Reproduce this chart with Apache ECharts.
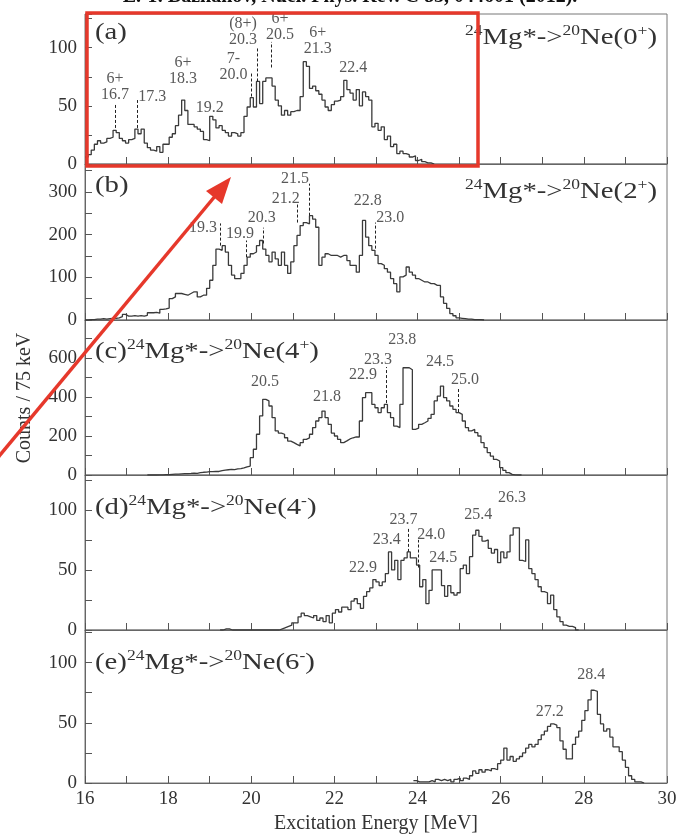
<!DOCTYPE html>
<html><head><meta charset="utf-8">
<script src="https://cdn.jsdelivr.net/npm/echarts@6/dist/echarts.min.js"></script>
<style>html,body{margin:0;padding:0;background:#fff}#c{width:679px;height:834px}</style>
</head><body><div id="c"></div>
<script>
// ---------------- data ----------------
const BIN = 0.075; // MeV per bin (75 keV)

const startA = 16.0;
const countsA = [
  6, 8, 12, 17, 20, 18, 19, 22, 23, 29,
  27, 22, 20, 18, 21, 22, 30, 26, 30, 18,
  14, 12, 11, 15, 10, 17, 17, 23, 26, 33,
  42, 55, 46, 34, 34, 32, 30, 28, 21, 20,
  41, 38, 31, 33, 29, 27, 24, 27, 26, 24,
  27, 41, 49, 57, 49, 71, 52, 71, 74, 74,
  67, 55, 50, 42, 46, 42, 45, 46, 46, 58,
  88, 84, 65, 67, 63, 60, 55, 49, 46, 51,
  54, 55, 58, 72, 64, 61, 55, 64, 50, 62,
  58, 55, 32, 35, 29, 32, 21, 24, 15, 17,
  9, 11, 9, 8, 6, 7, 3, 4, 2, 1,
  1, 0
];

const startB = 16.0;
const countsB = [
  0, 1, 1, 2, 2, 3, 2, 3, 4, 4,
  5, 8, 13, 9, 9, 10, 9, 10, 9, 11,
  17, 17, 18, 16, 25, 26, 28, 50, 54, 62,
  62, 60, 58, 62, 66, 66, 54, 58, 58, 74,
  93, 128, 166, 163, 174, 159, 128, 105, 97, 97,
  109, 128, 147, 155, 159, 174, 186, 166, 151, 136,
  159, 143, 128, 159, 128, 109, 136, 174, 198, 221,
  228, 225, 244, 236, 217, 128, 147, 155, 151, 151,
  151, 147, 151, 151, 139, 128, 128, 112, 151, 233,
  194, 174, 163, 151, 132, 128, 120, 112, 97, 85,
  66, 101, 105, 124, 112, 105, 97, 93, 89, 89,
  85, 85, 81, 81, 54, 39, 27, 15, 10, 5,
  4, 3, 2, 2, 1, 1, 1, 0
];

const startC = 17.5;
const countsC = [
  0, 0, 0, 1, 1, 2, 2, 3, 4, 5,
  6, 7, 7, 8, 10, 8, 12, 14, 15, 17,
  17, 19, 18, 22, 25, 27, 29, 28, 31, 33,
  36, 42, 46, 89, 132, 209, 303, 388, 380, 354,
  294, 226, 215, 209, 191, 174, 166, 157, 149, 166,
  183, 190, 209, 243, 277, 294, 328, 294, 260, 215,
  200, 183, 166, 175, 185, 191, 195, 195, 277, 397,
  422, 422, 362, 345, 320, 345, 362, 320, 294, 251,
  243, 362, 550, 550, 540, 234, 240, 260, 268, 277,
  290, 311, 380, 405, 456, 397, 380, 354, 337, 320,
  311, 277, 243, 226, 234, 217, 200, 166, 140, 115,
  97, 80, 72, 38, 24, 12, 3, 1, 0, 0
];

const startD = 19.25;
const countsD = [
  0, 1, 1, 0, 0, 0, 0, 0, 0, 0,
  0, 0, 0, 0, 0, 0, 0, 0, 0, 1,
  2, 3, 4, 6, 6, 11, 14, 12, 11, 10,
  12, 8, 10, 7, 12, 6, 14, 17, 15, 19,
  19, 17, 24, 26, 22, 18, 28, 32, 35, 42,
  40, 37, 40, 47, 65, 50, 58, 42, 58, 60,
  65, 60, 60, 54, 36, 42, 22, 33, 50, 50,
  50, 37, 28, 37, 31, 29, 31, 51, 54, 47,
  61, 79, 83, 78, 74, 75, 68, 64, 67, 56,
  65, 60, 65, 79, 85, 85, 58, 57, 75, 51,
  47, 42, 36, 32, 31, 22, 29, 17, 11, 7,
  4, 3, 3, 2, 0
];

const startE = 23.9;
const countsE = [
  2, 1, 1, 1, 1, 2, 1, 3, 2, 3,
  2, 3, 1, 3, 4, 2, 4, 3, 6, 10,
  8, 11, 9, 11, 10, 12, 11, 16, 19, 29,
  19, 22, 18, 20, 22, 25, 29, 32, 30, 32,
  36, 40, 43, 47, 49, 48, 46, 35, 28, 20,
  20, 32, 38, 43, 52, 60, 69, 77, 76, 57,
  49, 43, 45, 38, 30, 30, 26, 19, 13, 6,
  3, 1, 1, 0
];

// peak annotations: [energy, counts at label centre, text]
const peaksA = [
  [16.72, 66, '6+\n16.7'], [17.62, 58, '17.3'], [18.36, 80, '6+\n18.3'],
  [19.0, 48, '19.2'], [19.57, 84, '7-\n20.0'], [19.8, 114, '(8+)\n20.3'],
  [20.69, 118, '6+\n20.5'], [21.6, 106, '6+\n21.3'], [22.45, 83, '22.4']
];
const peaksB = [
  [18.84, 216, '19.3'], [19.73, 202, '19.9'], [20.25, 240, '20.3'],
  [20.83, 284, '21.2'], [21.05, 330, '21.5'], [22.8, 279, '22.8'], [23.34, 240, '23.0']
];
const peaksC = [
  [20.33, 477, '20.5'], [21.82, 400, '21.8'], [22.69, 513, '22.9'], [23.05, 590, '23.3'],
  [23.63, 692, '23.8'], [24.54, 579, '24.5'], [25.14, 487, '25.0']
];
const peaksD = [
  [22.69, 52, '22.9'], [23.26, 75, '23.4'], [23.66, 92, '23.7'], [24.33, 79, '24.0'],
  [24.62, 60, '24.5'], [25.46, 96, '25.4'], [26.27, 110, '26.3']
];
const peaksE = [[27.18, 59, '27.2'], [28.18, 90, '28.4']];

// dashed guide lines: [energy, from counts, to counts]
const dashesA = [[16.72, 31, 52], [17.25, 31, 55], [20.0, 58, 79], [20.15, 71, 101], [20.47, 83, 105]];
const dashesB = [[19.25, 174, 226], [19.89, 147, 186], [20.29, 179, 216], [21.1, 228, 272], [21.39, 244, 319], [22.98, 167, 228]];
const dashesC = [[23.24, 369, 554], [24.98, 323, 451]];
const dashesD = [[23.78, 65, 85], [24.02, 52, 75]];
const dashesE = [];

const panelIds = ['(a)', '(b)', '(c)', '(d)', '(e)'];
const finalSpins = ['0', '2', '4', '4', '6'];
const finalParities = ['+', '+', '+', '-', '-'];
const xTickLabels = [16, 18, 20, 22, 24, 26, 28, 30];
const yMax = [129, 365, 795, 129, 127];
const yTickStep = [25, 50, 100, 25, 25];
const yLabelStep = [50, 100, 200, 50, 50];
const xAxisTitle = 'Excitation Energy [MeV]';
const yAxisTitle = 'Counts / 75 keV';
const headerText = 'E. T. Bazhanov, Nucl. Phys. Rev. C 85, 044601 (2012).';

// ---------------- chart ----------------
const SERIF = '"Liberation Serif", "DejaVu Serif", serif';
const INK = '#333';
const starts = [startA, startB, startC, startD, startE];
const counts = [countsA, countsB, countsC, countsD, countsE];
const peaks = [peaksA, peaksB, peaksC, peaksD, peaksE];
const dashes = [dashesA, dashesB, dashesC, dashesD, dashesE];

function hist(start, vals) {
  const pts = vals.map((v, k) => [+(start + k * BIN).toFixed(3), v]);
  pts.push([+(start + vals.length * BIN).toFixed(3), 0]);
  return pts;
}

const gridBox = [
  {top: 14, height: 150}, {top: 164, height: 156}, {top: 320, height: 155},
  {top: 475, height: 155}, {top: 630, height: 153}
];

const grids = gridBox.map(g => ({
  left: 85, right: 12, top: g.top, height: g.height,
  show: true, borderColor: '#777', borderWidth: 1, backgroundColor: 'transparent',
  containLabel: false, outerBoundsMode: 'none'
}));

const xAxes = gridBox.map((g, i) => ({
  type: 'value', gridIndex: i, min: 16, max: 30, interval: 1,
  axisLine: {show: true, onZero: false, lineStyle: {color: '#666', width: 1}},
  axisTick: {show: true, inside: true, length: 7, lineStyle: {color: '#555'}},
  splitLine: {show: false},
  axisLabel: {
    show: i === 4, margin: 7, color: INK, fontFamily: SERIF, fontSize: 19,
    formatter: v => xTickLabels.includes(v) ? String(v) : ''
  },
  name: i === 4 ? xAxisTitle : '', nameLocation: 'middle', nameGap: 31,
  nameTextStyle: {color: INK, fontFamily: SERIF, fontSize: 20}
}));

const yAxes = gridBox.map((g, i) => ({
  type: 'value', gridIndex: i, min: 0, max: yMax[i], interval: yTickStep[i],
  axisLine: {show: true, lineStyle: {color: '#666', width: 1}},
  axisTick: {show: true, inside: true, length: 7, lineStyle: {color: '#555'}},
  splitLine: {show: false},
  axisLabel: {
    margin: 8, color: INK, fontFamily: SERIF, fontSize: 19,
    formatter: v => (v % yLabelStep[i] === 0) ? String(v) : ''
  }
}));

const series = [];
counts.forEach((vals, i) => {
  series.push({
    type: 'line', xAxisIndex: i, yAxisIndex: i, step: 'end', symbol: 'none',
    data: hist(starts[i], vals),
    lineStyle: {color: '#3a3a3a', width: 1.3}, silent: true, clip: true,
    markLine: {
      silent: true, symbol: ['none', 'none'], label: {show: false},
      lineStyle: {type: [3, 2], color: '#222', width: 1},
      data: dashes[i].map(d => [{coord: [d[0], d[1]]}, {coord: [d[0], d[2]]}])
    }
  });
  series.push({
    type: 'scatter', xAxisIndex: i, yAxisIndex: i, symbolSize: 0, silent: true,
    itemStyle: {color: 'rgba(0,0,0,0)'},
    data: peaks[i].map(p => ({name: p[2], value: [p[0], p[1]]})),
    label: {
      show: true, position: 'inside', formatter: '{b}', color: '#2e2e2e',
      fontFamily: SERIF, fontSize: 16, lineHeight: 16
    }
  });
});

function reaction(i, withId) {
  return (withId ? `{p|${panelIds[i]}}` : '') +
    `{s|24}{m|Mg*->}{s|20}{m|Ne(${finalSpins[i]}}{s|${finalParities[i]}}{m|)}`;
}
const rich = {
  p: {fontSize: 23, fontFamily: SERIF, fill: INK, lineHeight: 28},
  m: {fontSize: 23, fontFamily: SERIF, fill: INK, lineHeight: 28},
  s: {fontSize: 14, fontFamily: SERIF, fill: INK, lineHeight: 10, verticalAlign: 'top'}
};
function titleEl(text, x, y, align) {
  return {type: 'text', x: x, y: y, scaleX: 1.25, z: 10, silent: true,
    style: {text: text, rich: rich, align: align, verticalAlign: 'middle',
      fill: INK, font: `23px ${SERIF}`}};
}

const graphics = [
  titleEl(`{p|${panelIds[0]}}`, 95, 33, 'left'),
  titleEl(reaction(0, false), 657, 38, 'right'),
  titleEl(`{p|${panelIds[1]}}`, 95, 186, 'left'),
  titleEl(reaction(1, false), 657, 192, 'right'),
  titleEl(reaction(2, true), 95, 352, 'left'),
  titleEl(reaction(3, true), 95, 508, 'left'),
  titleEl(reaction(4, true), 95, 663, 'left'),
  {type: 'text', x: 25, y: 398, rotation: Math.PI / 2, silent: true,
    style: {text: yAxisTitle, align: 'center', verticalAlign: 'middle', fill: INK, font: `20px ${SERIF}`}},
  {type: 'text', x: 350, y: -3, silent: true,
    style: {text: headerText, align: 'center', verticalAlign: 'middle', fill: '#111', font: `bold 20px ${SERIF}`}},
  // red annotation overlay
  {type: 'rect', z: 20, silent: true, shape: {x: 87, y: 13, width: 391, height: 153},
    style: {fill: 'none', stroke: '#e6382b', lineWidth: 3.5}},
  {type: 'line', z: 20, silent: true, shape: {x1: -5, y1: 461, x2: 216, y2: 195},
    style: {stroke: '#e6382b', lineWidth: 3.5}},
  {type: 'polygon', z: 20, silent: true, shape: {points: [[231, 177], [222, 204], [206, 191]]},
    style: {fill: '#e6382b'}}
];

const chart = echarts.init(document.getElementById('c'), null, {renderer: 'canvas'});
chart.setOption({
  animation: false,
  backgroundColor: '#fff',
  grid: grids, xAxis: xAxes, yAxis: yAxes, series: series, graphic: graphics
});
</script></body></html>
